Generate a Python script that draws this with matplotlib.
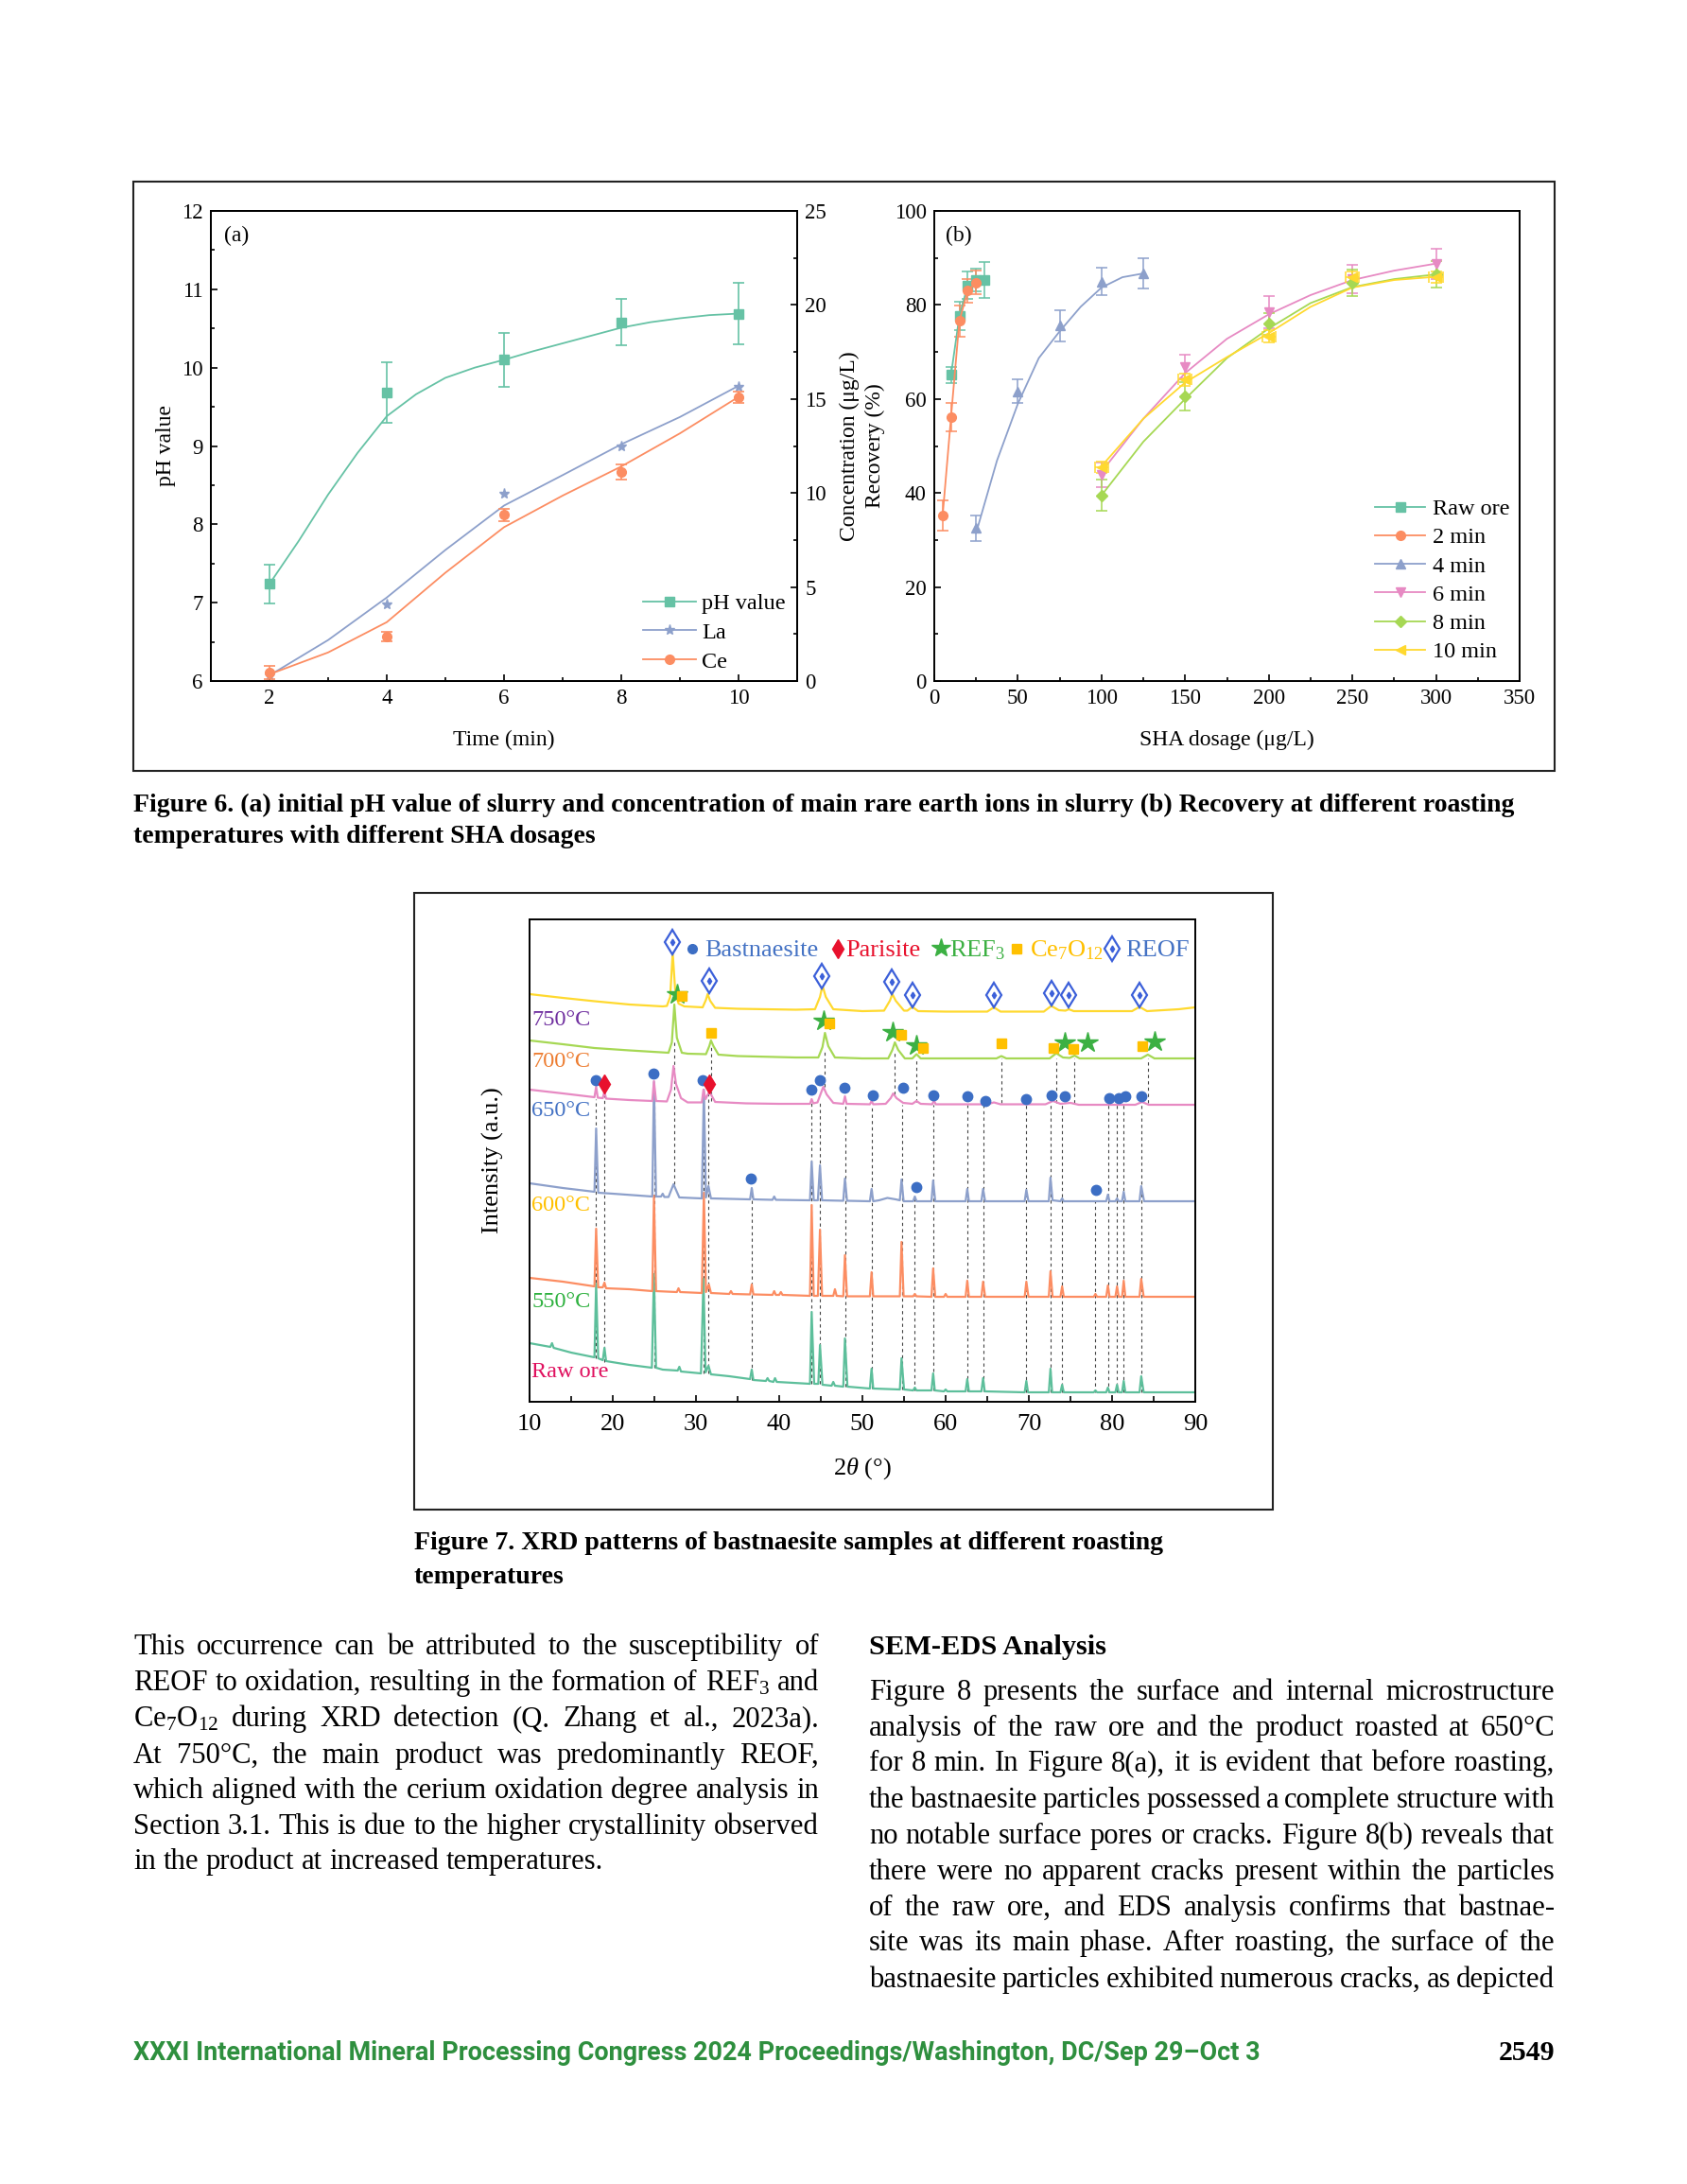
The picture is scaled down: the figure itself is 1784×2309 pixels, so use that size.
import matplotlib
matplotlib.use("Agg")
import matplotlib.pyplot as plt
from matplotlib.lines import Line2D
from matplotlib.patches import Rectangle
from matplotlib.ticker import MultipleLocator

W, H = 1784, 2309

# ---------------- Figure 6(a): pH and ion concentration ----------------
TIME = [2, 4, 6, 8, 10]
PH = [7.24, 9.68, 10.10, 10.58, 10.69]
PH_ERR = [0.25, 0.39, 0.34, 0.30, 0.39]
LA = [0.30, 4.08, 9.94, 12.48, 15.64]
CE = [0.44, 2.38, 8.83, 11.11, 15.09]
CE_ERR = [0.35, 0.25, 0.35, 0.40, 0.30]

# fitted curves as drawn in the source figure
PH_FIT_X = [2, 2.5, 3, 3.5, 4, 4.5, 5, 5.5, 6, 6.5, 7, 7.5, 8, 8.5, 9, 9.5, 10]
PH_FIT = [7.24, 7.79, 8.38, 8.91, 9.38, 9.66, 9.87, 10.00, 10.10, 10.21,
          10.31, 10.41, 10.51, 10.58, 10.63, 10.67, 10.69]
ION_FIT_X = [2, 3, 4, 5, 6, 7, 8, 9, 10]
LA_FIT = [0.30, 2.18, 4.44, 6.97, 9.33, 10.95, 12.59, 14.04, 15.70]
CE_FIT = [0.36, 1.52, 3.13, 5.76, 8.18, 9.86, 11.41, 13.17, 15.11]

# ---------------- Figure 6(b): recovery vs SHA dosage ----------------
RAW_X = [10, 15, 20, 25, 30]
RAW_R = [65.1, 77.6, 84.2, 85.3, 85.3]
RAW_E = [1.8, 3.0, 3.0, 2.5, 3.8]
M2_X = [5, 10, 15, 20, 25]
M2_R = [35.2, 56.1, 76.6, 83.0, 84.8]
M2_E = [3.2, 3.0, 3.3, 2.5, 2.5]
M4_X = [25, 50, 75, 100, 125]
M4_R = [32.5, 61.6, 75.6, 85.0, 86.7]
M4_E = [2.7, 2.5, 3.3, 2.9, 3.2]
LATE_X = [100, 150, 200, 250, 300]
M6_R = [43.8, 66.9, 78.4, 85.5, 88.8]
M6_E = [2.6, 2.6, 3.4, 3.0, 3.2]
M8_R = [39.5, 60.5, 76.0, 84.7, 86.5]
M8_E = [3.3, 3.0, 2.3, 2.8, 2.8]
M10_R = [45.4, 64.1, 73.3, 85.9, 86.0]
M10_E = [1.2, 1.3, 1.3, 1.2, 1.2]
M10_XE = [4, 4, 4, 4, 4]

M4_FIT_X = [25, 37.5, 50, 62.5, 75, 87.5, 100, 112.5, 125]
M4_FIT = [31.5, 46.9, 59.0, 68.7, 74.4, 79.6, 83.7, 85.9, 86.7]
LATE_FIT_X = [100, 125, 150, 175, 200, 225, 250, 275, 300]
M6_FIT = [44.5, 55.8, 65.5, 72.8, 78.0, 82.1, 85.3, 87.3, 88.8]
M8_FIT = [39.5, 50.9, 60.0, 68.7, 75.0, 80.4, 83.8, 85.5, 86.5]
M10_FIT = [45.7, 55.8, 63.5, 68.9, 74.0, 79.6, 83.7, 85.3, 86.0]

# ---------------- Figure 7: XRD patterns (2theta, stacked intensity) ----------------
XRD_RAW = [(10.0, 62), (12.5, 58), (12.7, 62), (12.9, 57), (15.0, 52), (17.8, 47), (18.0, 125),
           (18.25, 46), (18.8, 44), (19.0, 57), (19.2, 43), (22.0, 39), (24.7, 36), (24.95, 135),
           (25.2, 36), (26.0, 34), (27.8, 33), (28.0, 37), (28.2, 32), (30.6, 30), (30.9, 130),
           (31.15, 31), (31.5, 38), (31.8, 29), (34.0, 27), (36.5, 24), (36.7, 34), (36.9, 23),
           (38.4, 22), (38.6, 25), (38.8, 22), (39.3, 21), (39.5, 25), (39.7, 21), (43.7, 19),
           (43.9, 95), (44.2, 19), (44.7, 19), (44.9, 60), (45.2, 18), (46.3, 17), (46.5, 21),
           (46.7, 17), (47.7, 16), (47.9, 67), (48.2, 16), (50.9, 14), (51.1, 35), (51.3, 14),
           (54.5, 13), (54.7, 46), (55.0, 13), (56.1, 12), (56.3, 15), (56.5, 12), (58.3, 12),
           (58.5, 30), (58.7, 12), (59.8, 11), (60.0, 13), (60.2, 11), (62.4, 11), (62.6, 24),
           (62.8, 11), (64.3, 11), (64.5, 25), (64.7, 11), (69.5, 10), (69.7, 22), (69.9, 10),
           (72.4, 10), (72.6, 35), (72.8, 10), (73.8, 10), (74.0, 18), (74.2, 10), (77.8, 10),
           (78.0, 12), (78.2, 10), (79.3, 10), (79.5, 15), (79.7, 10), (80.4, 10), (80.6, 18),
           (80.8, 10), (81.2, 10), (81.4, 22), (81.6, 10), (83.3, 10), (83.5, 27), (83.8, 10),
           (90.0, 10)]
XRD_550 = [(10.0, 131), (14.0, 127), (17.8, 122), (18.0, 183), (18.25, 121), (18.8, 121), (19.0, 126),
           (19.2, 120), (22.0, 119), (24.75, 117), (24.95, 218), (25.2, 117), (27.7, 116), (27.9, 120),
           (28.1, 116), (30.7, 115), (30.95, 221), (31.2, 116), (31.55, 124), (31.8, 115), (34.0, 114),
           (34.2, 117), (34.4, 114), (36.5, 113.5), (36.7, 124), (36.9, 113.5), (39.2, 113), (39.4, 117),
           (39.6, 113), (40.0, 113), (40.2, 116), (40.4, 113), (43.7, 112), (43.9, 208), (44.15, 112),
           (44.65, 112), (44.9, 182), (45.15, 112), (46.5, 112), (46.7, 119), (46.9, 112), (47.7, 111.5),
           (47.9, 155), (48.15, 111.5), (50.9, 111.5), (51.1, 137), (51.3, 111.5), (54.5, 111.5),
           (54.7, 169), (54.95, 111.5), (56.1, 111.5), (56.3, 114), (56.5, 111.5), (58.3, 111),
           (58.5, 141), (58.75, 111), (59.8, 111), (60.0, 114), (60.2, 111), (62.4, 111), (62.6, 128),
           (62.8, 111), (64.3, 111), (64.5, 127), (64.75, 111), (69.5, 111), (69.7, 127), (69.95, 111),
           (72.4, 111), (72.6, 138), (72.85, 111), (73.8, 111), (74.0, 122), (74.2, 111), (77.8, 111),
           (78.0, 114), (78.2, 111), (79.3, 111), (79.5, 123), (79.7, 111), (80.4, 111), (80.6, 122),
           (80.8, 111), (81.2, 111), (81.4, 128), (81.6, 111), (83.3, 111), (83.5, 130), (83.8, 111),
           (90.0, 111)]
XRD_600 = [(10.0, 231), (14.0, 226), (17.8, 222), (18.0, 289), (18.25, 221), (20.0, 220), (24.75, 217),
           (24.95, 338), (25.2, 217), (25.8, 217), (26.0, 220), (26.2, 216.5), (26.7, 216.5), (27.3, 230),
           (28.0, 216), (30.7, 215), (30.95, 330), (31.2, 216), (31.5, 228), (31.8, 215), (36.5, 214),
           (36.7, 226), (36.9, 214), (39.2, 213.5), (39.4, 217), (39.6, 213.5), (43.7, 213), (43.9, 254),
           (44.15, 213), (44.65, 213), (44.9, 250), (45.15, 213), (47.7, 212.5), (47.9, 236),
           (48.15, 212.5), (50.9, 212), (51.1, 225), (51.3, 212), (52.0, 213), (53.0, 215.5), (54.0, 214),
           (54.5, 213), (54.7, 235), (54.95, 212), (56.1, 212), (56.3, 217), (56.5, 212), (58.3, 212),
           (58.5, 234), (58.75, 212), (62.4, 212), (62.6, 225), (62.8, 212), (64.3, 212), (64.5, 225),
           (64.75, 212), (69.5, 212), (69.7, 224), (69.95, 212), (72.4, 212), (72.6, 237), (72.85, 213),
           (73.8, 212), (74.0, 215), (74.2, 212), (79.3, 212), (79.5, 219), (79.7, 212), (80.4, 212),
           (80.6, 215), (80.8, 212), (81.2, 212), (81.4, 222), (81.6, 212), (83.3, 212), (83.5, 228),
           (83.85, 212), (90.0, 212)]
XRD_650 = [(10.0, 330), (14.0, 326), (17.8, 322), (18.0, 333), (18.2, 321.5), (18.8, 321), (19.0, 328),
           (19.2, 320.5), (22.0, 319), (24.75, 318), (24.95, 339), (25.2, 318), (26.5, 317.5), (27.0, 330),
           (27.3, 355), (27.6, 336), (28.2, 321), (29.0, 316.5), (30.7, 316.5), (30.9, 330), (31.15, 320),
           (31.6, 328), (32.3, 317), (36.0, 315.5), (40.0, 315), (43.7, 315), (43.9, 320), (44.1, 315.5),
           (44.6, 316.5), (45.0, 326), (45.3, 333), (45.7, 325), (46.5, 316), (47.7, 315), (47.9, 323),
           (48.1, 315), (50.9, 314.5), (51.1, 318), (51.3, 314.5), (52.8, 315), (53.4, 321), (53.7, 326),
           (54.1, 321), (54.9, 316), (56.0, 315), (56.5, 318), (57.0, 315), (58.4, 314.5), (58.6, 319),
           (58.8, 314.5), (65.0, 314.5), (65.8, 316.5), (66.6, 314.5), (72.0, 314.5), (72.9, 318),
           (73.8, 315), (75.0, 316), (76.0, 314), (82.8, 314), (83.6, 317), (84.4, 314), (90.0, 314)]
XRD_700 = [(10.0, 382), (14.0, 378), (17.8, 374), (22.0, 371.5), (26.7, 369), (27.1, 380), (27.4, 420),
           (27.7, 385), (28.3, 369), (29.0, 368), (31.2, 367.5), (31.6, 376), (31.8, 382), (32.1, 376),
           (32.7, 367), (35.0, 365.5), (42.0, 364), (44.7, 364), (45.2, 375), (45.5, 390), (45.9, 376),
           (46.7, 364), (50.0, 363), (53.1, 363), (53.6, 372), (53.9, 380), (54.3, 372), (55.1, 363),
           (56.0, 363), (56.5, 367.5), (57.0, 363), (66.1, 363), (66.7, 365.5), (67.3, 363), (72.5, 363),
           (73.3, 368.5), (74.1, 364), (74.9, 363.5), (75.5, 366), (76.1, 363), (83.5, 363), (84.3, 367),
           (85.1, 363), (90.0, 363)]
XRD_750 = [(10.0, 431), (14.0, 427), (17.8, 423.5), (22.0, 420), (26.0, 418), (26.5, 418.5), (26.9, 428),
           (27.2, 475), (27.5, 435), (27.9, 421), (28.6, 418), (30.8, 417), (31.2, 425), (31.4, 431),
           (31.7, 424), (32.3, 416.5), (35.0, 415.5), (42.0, 414.5), (44.3, 415), (44.9, 428), (45.2, 440),
           (45.6, 428), (46.5, 415), (50.0, 413), (52.6, 413.5), (53.3, 424), (53.6, 431), (54.0, 424),
           (55.0, 413.5), (55.4, 413.5), (56.0, 417.5), (56.7, 413), (60.0, 412.5), (65.0, 412.5),
           (65.8, 417), (66.6, 412.5), (71.8, 412.5), (72.7, 418.5), (73.6, 414), (74.4, 413.5),
           (74.8, 415), (75.4, 413), (80.0, 413), (82.4, 413), (83.3, 417.5), (84.2, 413), (88.0, 415),
           (90.0, 417)]
XRD_NAMES = ["Raw ore", "550°C", "600°C", "650°C", "700°C", "750°C"]

# phase markers (2theta, stacked intensity)
REOF_PTS = [(27.16, 486), (31.6, 445), (45.15, 450), (53.56, 444), (56.0, 430), (65.76, 430),
            (72.77, 432), (74.81, 430), (83.3, 430)]
REF3_PTS = [(27.73, 431), (45.34, 403), (53.67, 391), (56.51, 377), (74.32, 380), (77.05, 380),
            (85.1, 381)]
CE7O12_PTS = [(28.26, 429), (31.82, 390), (46.06, 400), (54.62, 388), (57.31, 374), (66.67, 379),
              (72.92, 374), (75.31, 373), (83.67, 376)]
BAST_PTS = [(17.95, 340), (24.89, 347), (30.83, 340), (43.9, 330), (44.89, 340), (47.88, 332),
            (51.28, 324), (54.89, 332), (58.56, 324), (62.65, 323), (64.74, 318), (69.66, 320),
            (72.73, 324), (74.28, 323), (79.62, 321), (80.76, 321), (81.63, 323), (83.56, 323),
            (36.63, 236), (56.44, 227), (78.07, 224)]
PARISITE_PTS = [(18.98, 336), (31.63, 336)]

# dashed guide lines: (2theta, top, bottom)
GUIDES = [(18.0, 320, 46), (19.0, 327, 42), (25.0, 318, 36), (27.4, 380, 230), (30.9, 316, 30),
          (31.5, 327, 30), (31.8, 375, 318), (36.7, 225, 23), (43.9, 316, 19), (44.9, 316, 19),
          (45.5, 370, 333), (47.9, 316, 16), (51.1, 314, 14), (53.9, 370, 325), (54.8, 314, 13),
          (56.3, 217, 12), (56.5, 363, 317), (58.5, 314, 12), (62.6, 314, 11), (64.5, 314, 11),
          (66.7, 363, 316), (69.7, 314, 10), (72.6, 314, 10), (73.3, 363, 316), (74.0, 314, 10),
          (75.5, 363, 316), (78.0, 212, 10), (79.5, 314, 10), (80.6, 314, 10), (81.4, 314, 10),
          (83.5, 314, 10), (84.3, 363, 316)]

# ---------------- page text ----------------
CAPTION6 = ["Figure 6. (a) initial pH value of slurry and concentration of main rare earth ions in slurry (b) Recovery at different roasting",
            "temperatures with different SHA dosages"]
CAPTION7 = ["Figure 7. XRD patterns of bastnaesite samples at different roasting",
            "temperatures"]
LEFT_COL = ["This occurrence can be attributed to the susceptibility of",
            "REOF to oxidation, resulting in the formation of REF$_3$ and",
            "Ce$_7$O$_{12}$ during XRD detection (Q. Zhang et al., 2023a).",
            "At 750°C, the main product was predominantly REOF,",
            "which aligned with the cerium oxidation degree analysis in",
            "Section 3.1. This is due to the higher crystallinity observed",
            "in the product at increased temperatures."]
HEADING = "SEM-EDS Analysis"
RIGHT_COL = ["Figure 8 presents the surface and internal microstructure",
             "analysis of the raw ore and the product roasted at 650°C",
             "for 8 min. In Figure 8(a), it is evident that before roasting,",
             "the bastnaesite particles possessed a complete structure with",
             "no notable surface pores or cracks. Figure 8(b) reveals that",
             "there were no apparent cracks present within the particles",
             "of the raw ore, and EDS analysis confirms that bastnae-",
             "site was its main phase. After roasting, the surface of the",
             "bastnaesite particles exhibited numerous cracks, as depicted"]
FOOTER = "XXXI International Mineral Processing Congress 2024 Proceedings/Washington, DC/Sep 29–Oct 3"
PAGE_NO = "2549"

# colours
TEAL, CORAL, PERI, PINK, LIME, YELLOW = "#66c2a5", "#fc8d62", "#8da0cb", "#e78ac3", "#a6d854", "#ffd92f"
XRD_COLORS = ["#5dbf9b", CORAL, PERI, PINK, LIME, YELLOW]
LABEL_COLORS = ["#e0115f", "#2eb13f", "#ffc000", "#4472c4", "#ed7d31", "#7030a0"]
LABEL_Y = [31, 105, 207, 307, 359, 403]

plt.rcParams.update({
    "font.family": ["Liberation Serif", "DejaVu Serif"],
    "mathtext.fontset": "custom",
    "mathtext.rm": "Liberation Serif",
    "mathtext.it": "Liberation Serif:italic",
    "mathtext.bf": "Liberation Serif:bold",
    "axes.linewidth": 1.4,
})

fig = plt.figure(figsize=(W / 100, H / 100), dpi=100)
fig.patch.set_facecolor("white")
renderer = fig.canvas.get_renderer()


def rect(x0, y0, x1, y1):
    return [x0 / W, 1 - y1 / H, (x1 - x0) / W, (y1 - y0) / H]


def box(x0, y0, x1, y1):
    fig.add_artist(Rectangle((x0 / W, 1 - y1 / H), (x1 - x0) / W, (y1 - y0) / H,
                             transform=fig.transFigure, fill=False, lw=1.5, edgecolor="#222222"))


def ticks(ax, size, **kw):
    ax.tick_params(which="both", direction="in", labelsize=size, width=1.2, pad=6, **kw)
    ax.tick_params(which="major", length=5)
    ax.tick_params(which="minor", length=3)


# --------------------------------------------
# Figure 6 (a)
# --------------------------------------------
box(141, 192, 1644, 815)
ax_a = fig.add_axes(rect(223, 223, 843, 720))
ax_c = ax_a.twinx()
ax_a.plot(PH_FIT_X, PH_FIT, color=TEAL, lw=1.3)
ax_a.errorbar(TIME, PH, yerr=PH_ERR, fmt="s", color=TEAL, ms=7, capsize=4.5, elinewidth=1.2, capthick=1.2)
ax_c.plot(ION_FIT_X, LA_FIT, color=PERI, lw=1.3)
ax_c.plot(TIME, LA, "*", color=PERI, ms=8)
ax_c.plot(ION_FIT_X, CE_FIT, color=CORAL, lw=1.3)
ax_c.errorbar(TIME, CE, yerr=CE_ERR, fmt="o", color=CORAL, ms=7, capsize=4, elinewidth=1.2, capthick=1.2)
ax_a.set_xlim(1, 11)
ax_a.set_ylim(6, 12)
ax_c.set_ylim(0, 25)
ax_a.xaxis.set_major_locator(MultipleLocator(2))
ax_a.xaxis.set_minor_locator(MultipleLocator(1))
ax_a.yaxis.set_major_locator(MultipleLocator(1))
ax_a.yaxis.set_minor_locator(MultipleLocator(0.5))
ax_c.yaxis.set_major_locator(MultipleLocator(5))
ax_c.yaxis.set_minor_locator(MultipleLocator(2.5))
ticks(ax_a, 16.5, top=False, right=False)
ticks(ax_c, 16.5, right=True)
ax_a.set_xlabel("Time (min)", fontsize=17, va="center")
ax_a.xaxis.set_label_coords(0.5, (720 - 782) / 497)
ax_a.set_ylabel("pH value", fontsize=17, va="center")
ax_a.yaxis.set_label_coords((176 - 223) / 620, 0.5)
ax_c.set_ylabel("Concentration (μg/L)", fontsize=17, va="center")
ax_c.yaxis.set_label_coords((898 - 223) / 620, 0.5)
ax_a.text(0.022, 0.946, "(a)", transform=ax_a.transAxes, fontsize=17, va="center")
hand_a = [Line2D([], [], color=TEAL, marker="s", ms=7, lw=1.3),
          Line2D([], [], color=PERI, marker="*", ms=8, lw=1.3),
          Line2D([], [], color=CORAL, marker="o", ms=7, lw=1.3)]
ax_c.legend(hand_a, ["pH value", "La", "Ce"], loc="upper left", bbox_to_anchor=(680 / W, 1 - 627 / H),
            bbox_transform=fig.transFigure, frameon=False, fontsize=17.5, handlelength=2.3,
            handletextpad=0.25, labelspacing=0.36, borderpad=0, borderaxespad=0, numpoints=1)

# --------------------------------------------
# Figure 6 (b)
# --------------------------------------------
ax_b = fig.add_axes(rect(988, 223, 1607, 720))
eb = dict(ms=7, capsize=4.5, elinewidth=1.1, capthick=1.1, lw=1.3)
ax_b.errorbar(RAW_X, RAW_R, yerr=RAW_E, fmt="s-", color=TEAL, **eb)
ax_b.errorbar(M2_X, M2_R, yerr=M2_E, fmt="o-", color=CORAL, **eb)
ax_b.plot(M4_FIT_X, M4_FIT, color=PERI, lw=1.3)
ax_b.errorbar(M4_X, M4_R, yerr=M4_E, fmt="^", color=PERI, **eb)
ax_b.plot(LATE_FIT_X, M6_FIT, color=PINK, lw=1.3)
ax_b.errorbar(LATE_X, M6_R, yerr=M6_E, fmt="v", color=PINK, **eb)
ax_b.plot(LATE_FIT_X, M8_FIT, color=LIME, lw=1.3)
ax_b.errorbar(LATE_X, M8_R, yerr=M8_E, fmt="D", color=LIME, ms=6, capsize=4.5, elinewidth=1.1, capthick=1.1)
ax_b.plot(LATE_FIT_X, M10_FIT, color=YELLOW, lw=1.3)
ax_b.errorbar(LATE_X, M10_R, yerr=M10_E, xerr=M10_XE, fmt="<", color=YELLOW, **eb)
ax_b.set_xlim(0, 350)
ax_b.set_ylim(0, 100)
ax_b.xaxis.set_major_locator(MultipleLocator(50))
ax_b.xaxis.set_minor_locator(MultipleLocator(25))
ax_b.yaxis.set_major_locator(MultipleLocator(20))
ax_b.yaxis.set_minor_locator(MultipleLocator(10))
ticks(ax_b, 16.5, top=False, right=False)
ax_b.set_xlabel("SHA dosage (μg/L)", fontsize=17, va="center")
ax_b.xaxis.set_label_coords(0.5, (720 - 782) / 497)
ax_b.set_ylabel("Recovery (%)", fontsize=17, va="center")
ax_b.yaxis.set_label_coords((925 - 988) / 619, 0.5)
ax_b.text(0.02, 0.946, "(b)", transform=ax_b.transAxes, fontsize=17, va="center")
hand_b = [Line2D([], [], color=TEAL, marker="s", ms=7, lw=1.3),
          Line2D([], [], color=CORAL, marker="o", ms=7, lw=1.3),
          Line2D([], [], color=PERI, marker="^", ms=7, lw=1.3),
          Line2D([], [], color=PINK, marker="v", ms=7, lw=1.3),
          Line2D([], [], color=LIME, marker="D", ms=6, lw=1.3),
          Line2D([], [], color=YELLOW, marker="<", ms=7, lw=1.3)]
ax_b.legend(hand_b, ["Raw ore", "2 min", "4 min", "6 min", "8 min", "10 min"], loc="upper left",
            bbox_to_anchor=(1454 / W, 1 - 527 / H), bbox_transform=fig.transFigure, frameon=False,
            fontsize=17.5, handlelength=2.2, handletextpad=0.3, labelspacing=0.34, borderpad=0,
            borderaxespad=0, numpoints=1)

# --------------------------------------------
# Figure 7: XRD
# --------------------------------------------
box(438, 944, 1346, 1596)
ax7 = fig.add_axes(rect(560, 972, 1264, 1482))
for th, top, bot in GUIDES:
    ax7.plot([th, th], [bot, top], color="#444444", lw=0.8, ls=(0, (3, 3)), zorder=1)
for pts, col in zip([XRD_RAW, XRD_550, XRD_600, XRD_650, XRD_700, XRD_750], XRD_COLORS):
    ax7.plot([p[0] for p in pts], [p[1] for p in pts], color=col, lw=1.6, zorder=2)
for name, col, ly in zip(XRD_NAMES, LABEL_COLORS, LABEL_Y):
    ax7.text(10.25, ly, name, color=col, fontsize=17.5, va="center", zorder=4)

blue_mark = "#3c6ec4"
ax7.plot([p[0] for p in BAST_PTS], [p[1] for p in BAST_PTS], "o", color=blue_mark, ms=7.5, zorder=3)
ax7.plot([p[0] for p in PARISITE_PTS], [p[1] for p in PARISITE_PTS], "d", color="#e8112d", ms=10, zorder=3)
ax7.plot([p[0] for p in REF3_PTS], [p[1] for p in REF3_PTS], "*", color="#3cb043", ms=16, zorder=3)
ax7.plot([p[0] for p in CE7O12_PTS], [p[1] for p in CE7O12_PTS], "s", color="#ffc000", ms=7, zorder=3)
ax7.plot([p[0] for p in REOF_PTS], [p[1] for p in REOF_PTS], "d", mfc="white", mec="#3b5fd9",
         mew=1.6, ms=13, zorder=3)
ax7.plot([p[0] for p in REOF_PTS], [p[1] for p in REOF_PTS], "d", color="#3b5fd9", ms=3.5, zorder=3)

# phase key along the top
ky, kb = 479, 471
ax7.plot([29.5], [ky], "o", color=blue_mark, ms=7, zorder=3)
ax7.text(31.1, kb, "Bastnaesite", color="#4472c4", fontsize=19, va="baseline")
ax7.plot([47.1], [ky], "d", color="#e8112d", ms=10, zorder=3)
ax7.text(48.0, kb, "Parisite", color="#e8112d", fontsize=19, va="baseline")
ax7.plot([59.4], [ky + 1], "*", color="#3cb043", ms=15, zorder=3)
ax7.text(60.4, kb, "REF$_3$", color="#3cb043", fontsize=19, va="baseline")
ax7.plot([68.5], [ky], "s", color="#ffc000", ms=6.5, zorder=3)
ax7.text(70.1, kb, "Ce$_7$O$_{12}$", color="#ffc000", fontsize=19, va="baseline")
ax7.plot([80.0], [ky], "d", mfc="white", mec="#3b5fd9", mew=1.6, ms=13, zorder=3)
ax7.plot([80.0], [ky], "d", color="#3b5fd9", ms=3.5, zorder=3)
ax7.text(81.6, kb, "REOF", color="#4472c4", fontsize=19, va="baseline")

ax7.set_xlim(10, 90)
ax7.set_ylim(0, 510)
ax7.set_yticks([])
ax7.xaxis.set_major_locator(MultipleLocator(10))
ax7.xaxis.set_minor_locator(MultipleLocator(5))
ax7.tick_params(which="both", direction="in", labelsize=19, width=1.2, pad=9, top=False)
ax7.tick_params(which="major", length=5)
ax7.tick_params(which="minor", length=4)
ax7.set_xlabel("2$\\theta$ (°)", fontsize=19, va="center")
ax7.xaxis.set_label_coords(0.5, (1482 - 1553) / 510)
ax7.set_ylabel("Intensity (a.u.)", fontsize=19, va="center")
ax7.yaxis.set_label_coords((521 - 560) / 704, 0.5)


# --------------------------------------------
# Page text
# --------------------------------------------
def text_width(s, size, **kw):
    t = fig.text(0, 0, s, fontsize=size, **kw)
    w = t.get_window_extent(renderer=renderer).width
    t.remove()
    return w


def fit_text(x0, y, s, width, size, **kw):
    t = fig.text(x0 / W, 1 - y / H, s, fontsize=size, va="baseline", **kw)
    w = t.get_window_extent(renderer=renderer).width
    t.set_fontsize(size * width / w)
    return t.get_fontsize()


def body_size(lines, width, base=20.0, min_gap=0.2, cap=23.0):
    # largest size where every justified line keeps word gaps >= min_gap em
    best = cap
    for line in lines:
        words = line.split(" ")
        ws = sum(text_width(w, base) for w in words)
        need = ws + (len(words) - 1) * min_gap * base * 100 / 72
        best = min(best, base * width / need)
    return best


def justify(line, x0, x1, y, size, last=False, **kw):
    words = line.split(" ")
    ts = [fig.text(x0 / W, 1 - y / H, w, fontsize=size, va="baseline", **kw) for w in words]
    ws = [t.get_window_extent(renderer=renderer).width for t in ts]
    gap = 0.25 * size * 100 / 72
    if not last and len(ts) > 1:
        gap = (x1 - x0 - sum(ws)) / (len(ts) - 1)
    x = x0
    for t, w in zip(ts, ws):
        t.set_x(x / W)
        x += w + gap


fs6 = fit_text(141, 858, CAPTION6[0], 1457, 18, fontweight="bold")
fig.text(141 / W, 1 - 891 / H, CAPTION6[1], fontsize=fs6, fontweight="bold", va="baseline")
fig.text(438 / W, 1 - 1638 / H, CAPTION7[0], fontsize=fs6, fontweight="bold", va="baseline")
fig.text(438 / W, 1 - 1674 / H, CAPTION7[1], fontsize=fs6, fontweight="bold", va="baseline")

fsb = body_size(LEFT_COL[:-1] + RIGHT_COL, 725)
LEFT_Y = [1749, 1787, 1825, 1864, 1901, 1939, 1976]
RIGHT_Y = [1797, 1835, 1872, 1911, 1949, 1987, 2025, 2062, 2101]
for i, (line, y) in enumerate(zip(LEFT_COL, LEFT_Y)):
    justify(line, 141, 866, y, fsb, last=(i == len(LEFT_COL) - 1))
fit_text(919, 1749, HEADING, 250, 20, fontweight="bold")
for line, y in zip(RIGHT_COL, RIGHT_Y):
    justify(line, 919, 1644, y, fsb)

fit_text(141, 2178, FOOTER, 1192, 18, family=["Liberation Sans Narrow", "Roboto"],
         fontweight="bold", color="#2e8f3e")
t_no = fig.text(1644 / W, 1 - 2178 / H, PAGE_NO, fontsize=19, fontweight="bold", ha="right", va="baseline")
t_no.set_fontsize(19 * 60 / t_no.get_window_extent(renderer=renderer).width)

fig.savefig("out.png", dpi=100)
